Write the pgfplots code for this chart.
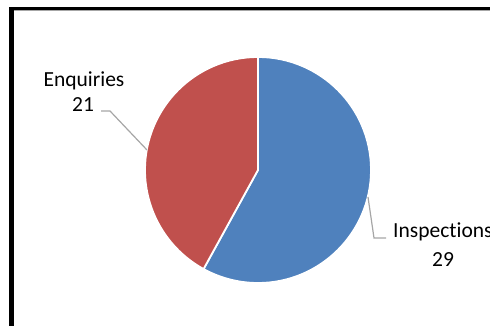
\documentclass[border=0pt]{standalone}
\usepackage{pgfplots}
\pgfplotsset{compat=1.18}
\usepackage{pgfplotstable}
\usepackage{fontspec}
\setmainfont{Carlito}[Ligatures=NoCommon]
\definecolor{insp}{HTML}{4F81BD}
\definecolor{enq}{HTML}{C0504D}
\definecolor{leader}{HTML}{A6A6A6}
\pgfplotstableread{
label value
Inspections 29
Enquiries 21
}\piedata
\begin{document}
\begin{tikzpicture}[x=1pt,y=1pt]
\useasboundingbox (0,0) rectangle (490,326);
\clip (0,0) rectangle (490,326);
\pgfplotstablegetelem{0}{value}\of\piedata \let\vA\pgfplotsretval
\pgfplotstablegetelem{1}{value}\of\piedata \let\vB\pgfplotsretval
\pgfmathsetmacro{\total}{\vA+\vB}
\pgfmathsetmacro{\angA}{360*\vA/\total}
\pgfmathsetmacro{\angB}{360*\vB/\total}
\pgfmathsetmacro{\endA}{90-\angA}
\pgfmathsetmacro{\endB}{90+\angB}
\begin{axis}[at={(0,0)}, anchor=south west, scale only axis,
  width=490pt, height=326pt, xmin=0, xmax=490, ymin=0, ymax=326,
  axis lines=none, clip=false]
\filldraw[fill=insp, draw=white, line width=1.8pt] (axis cs:258,156) -- (axis cs:258,269) arc[start angle=90, end angle=\endA, radius=113pt] -- cycle;
\filldraw[fill=enq, draw=white, line width=1.8pt] (axis cs:258,156) -- (axis cs:258,269) arc[start angle=90, end angle=\endB, radius=113pt] -- cycle;
\draw[leader, line width=1.2pt] (axis cs:101,215) -- (axis cs:110,215) -- (axis cs:147,176);
\draw[leader, line width=1.2pt] (axis cs:368,129) -- (axis cs:374,88) -- (axis cs:386,88);
\node[anchor=base, font=\fontsize{21.5}{25}\selectfont, inner sep=0pt] at (axis cs:84,239) {Enquiries};
\node[anchor=base, font=\fontsize{21.5}{25}\selectfont, inner sep=0pt] at (axis cs:83,214) {\vB};
\node[anchor=base west, font=\fontsize{21.5}{25}\selectfont, inner sep=0pt] at (axis cs:393,88) {Inspections};
\node[anchor=base, font=\fontsize{21.5}{25}\selectfont, inner sep=0pt] at (axis cs:443,59) {\vA};
\end{axis}
\draw[black, line width=5pt] (11.5,-5) -- (11.5,319);
\draw[black, line width=3pt] (9,317.5) -- (500,317.5);
\draw[gray!70, line width=0.8pt] (14,315.6) -- (500,315.6);
\end{tikzpicture}
\end{document}
